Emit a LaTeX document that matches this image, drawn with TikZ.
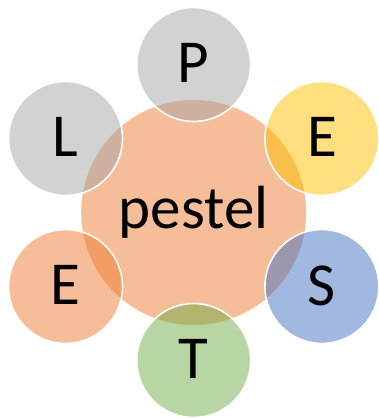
\documentclass[tikz,border=0pt]{standalone}
\usepackage{fontspec}
\setmainfont{Carlito}
\usetikzlibrary{calc}
\definecolor{accgray}{HTML}{A5A5A5}
\definecolor{accorange}{HTML}{ED7D31}
\definecolor{accyellow}{HTML}{FFC000}
\definecolor{accblue}{HTML}{4472C4}
\definecolor{accgreen}{HTML}{70AD47}
\begin{document}
\begin{tikzpicture}[x=1pt,y=-1pt,
  hub/.style={circle, inner sep=0pt, minimum size=225pt, fill=accorange, fill opacity=0.5, text opacity=1,
    font=\fontsize{61}{72}\selectfont},
  spoke/.style={circle, inner sep=0pt, minimum size=114pt, fill=#1, fill opacity=0.5, text opacity=1,
    draw=white, draw opacity=1, line width=1.6pt, font=\fontsize{61}{72}\selectfont}]
  \useasboundingbox (0,0) rectangle (378,419);
  \coordinate (c) at (193.7,212.5);
  \node[hub] (core) at (c) {\raisebox{-3.5pt}{pestel}};
  \node[spoke=accgray]   (pol) at ($(c)+(0,-148)$)        {\raisebox{2.5pt}{P}};
  \node[spoke=accyellow] (eco) at ($(c)+(128.2,-74)$)     {\raisebox{2.5pt}{E}};
  \node[spoke=accblue]   (soc) at ($(c)+(128.2,74)$)      {\raisebox{2.5pt}{S}};
  \node[spoke=accgreen]  (tec) at ($(c)+(0,148)$)         {\raisebox{2.5pt}{T}};
  \node[spoke=accorange] (env) at ($(c)+(-128.2,74)$)     {\raisebox{2.5pt}{E}};
  \node[spoke=accgray]   (leg) at ($(c)+(-128.2,-74)$)    {\raisebox{2.5pt}{L}};
\end{tikzpicture}
\end{document}
